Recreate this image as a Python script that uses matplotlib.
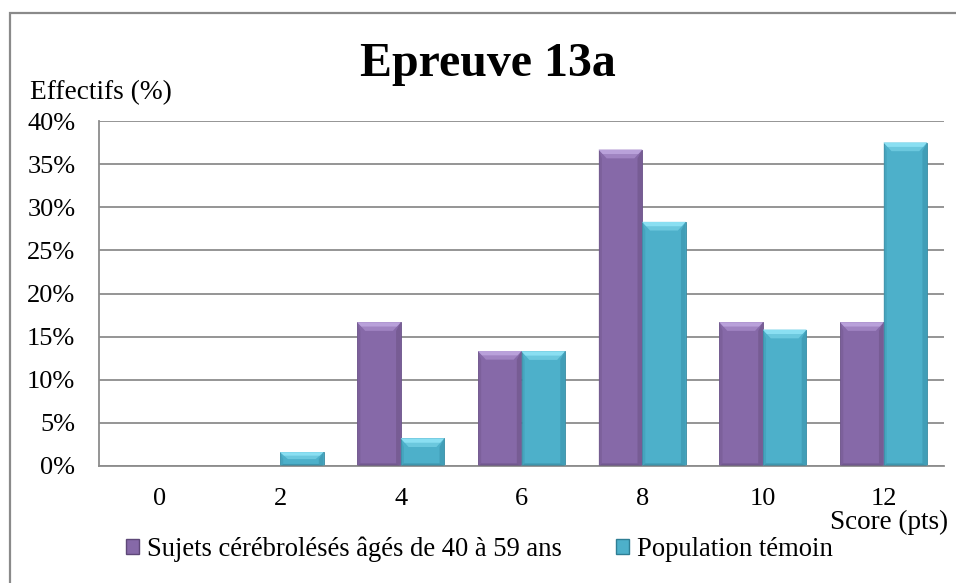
import matplotlib
matplotlib.use("Agg")
import matplotlib.pyplot as plt
from matplotlib.patches import Polygon, Patch, Rectangle
import numpy as np

# data
scores = ["0", "2", "4", "6", "8", "10", "12"]
patients = [0, 0, 16.67, 13.33, 36.67, 16.67, 16.67]
controls = [0, 1.6, 3.2, 13.3, 28.3, 15.8, 37.5]
y_ticks = [0, 5, 10, 15, 20, 25, 30, 35, 40]

label_patients = "Sujets cérébrolésés âgés de 40 à 59 ans"
label_controls = "Population témoin"

plt.rcParams["font.family"] = ["Liberation Serif", "DejaVu Serif"]

purple = {"face": "#8669A8", "top": "#B9A1DA", "top2": "#A084C2", "side": "#74598F", "bottom": "#5E4878"}
teal = {"face": "#4DB0CA", "top": "#8ADFF2", "top2": "#6BC8DE", "side": "#3F9AB3", "bottom": "#2F7E94"}

W, H = 956, 583
fig = plt.figure(figsize=(W / 100, H / 100), dpi=100)
ax = fig.add_axes([99 / W, 1 - 466 / H, (944 - 99) / W, (466 - 121) / H])

x = np.arange(len(scores))
w = 0.36


def bevel_bars(bars, col):
    # fake the bevelled 3D look of the office chart
    dx = 0.065
    for b in bars:
        x0, y0 = b.get_x(), b.get_y()
        bw, bh = b.get_width(), b.get_height()
        if bh <= 0:
            continue
        dy = min(1.0, bh / 2)
        x1, y1 = x0 + bw, y0 + bh
        # top bevel, two tones for a rough gradient
        ax.add_patch(Polygon([(x0, y1), (x1, y1), (x1 - dx, y1 - dy), (x0 + dx, y1 - dy)],
                             closed=True, facecolor=col["top2"], edgecolor="none", zorder=3))
        ax.add_patch(Polygon([(x0, y1), (x1, y1), (x1 - dx * 0.5, y1 - dy * 0.5), (x0 + dx * 0.5, y1 - dy * 0.5)],
                             closed=True, facecolor=col["top"], edgecolor="none", zorder=3))
        ax.add_patch(Polygon([(x1, y1), (x1, y0), (x1 - dx * 0.6, y0 + dy * 0.3), (x1 - dx * 0.6, y1 - dy)],
                             closed=True, facecolor=col["side"], edgecolor="none", alpha=0.8, zorder=3))
        ax.add_patch(Polygon([(x0, y1), (x0, y0), (x0 + dx * 0.4, y0 + dy * 0.3), (x0 + dx * 0.4, y1 - dy)],
                             closed=True, facecolor=col["side"], edgecolor="none", alpha=0.5, zorder=3))
        ax.add_patch(Polygon([(x0, y0), (x1, y0), (x1 - dx * 0.6, y0 + dy * 0.3), (x0 + dx * 0.4, y0 + dy * 0.3)],
                             closed=True, facecolor=col["bottom"], edgecolor="none", alpha=0.5, zorder=3))


b1 = ax.bar(x - w / 2, patients, w, color=purple["face"], edgecolor="#6A5388", linewidth=0.6, zorder=2)
b2 = ax.bar(x + w / 2, controls, w, color=teal["face"], edgecolor="#3A8BA2", linewidth=0.6, zorder=2)
bevel_bars(b1, purple)
bevel_bars(b2, teal)

ax.set_xlim(-0.5, len(scores) - 0.5)
ax.set_ylim(0, 40)
ax.set_yticks(y_ticks)
ax.set_yticklabels([f"{v}%" for v in y_ticks])
ax.set_xticks(x)
ax.set_xticklabels(scores)
ax.tick_params(axis="both", length=0, labelsize=19)
ax.tick_params(axis="y", pad=17)
ax.tick_params(axis="x", pad=16)
ax.yaxis.grid(True, color="#8C8C8C", linewidth=1.3, zorder=0)
ax.set_axisbelow(True)
for s in ["top", "right"]:
    ax.spines[s].set_visible(False)
for s in ["left", "bottom"]:
    ax.spines[s].set_color("#8C8C8C")
    ax.spines[s].set_linewidth(1.3)

fig.text(488 / W, 1 - 76 / H, "Epreuve 13a", ha="center", va="baseline",
         fontsize=34.5, fontweight="bold")
fig.text(30 / W, 1 - 93 / H, "Effectifs (%)", ha="left", va="center", fontsize=19.7)
fig.text(948 / W, 1 - 522 / H, "Score (pts)", ha="right", va="center", fontsize=19.5)

handles = [Patch(facecolor=purple["face"], edgecolor=purple["bottom"], label=label_patients),
           Patch(facecolor=teal["face"], edgecolor=teal["bottom"], label=label_controls)]
fig.legend(handles=handles, loc="center left", bbox_to_anchor=(126 / W, 1 - 549 / H),
           ncol=2, frameon=False, fontsize=19.2, handlelength=0.5, handleheight=0.5,
           handletextpad=0.3, columnspacing=2.0, borderpad=0, borderaxespad=0)

# outer chart frame (only top and left edges visible)
fig.patches.append(Rectangle((10 / W, -0.2), 1.2, 1.2 - 13 / H, transform=fig.transFigure,
                             fill=False, edgecolor="#8A8A8A", linewidth=1.6))

fig.savefig("out.png", dpi=100)
